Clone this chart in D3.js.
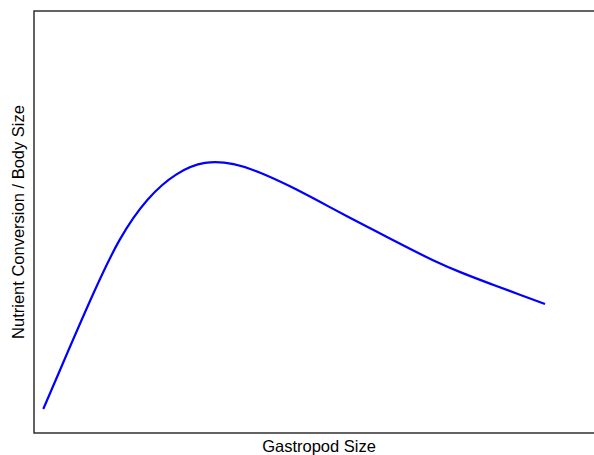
<!DOCTYPE html>
<html>
<head>
<meta charset="utf-8">
<script src="https://cdn.jsdelivr.net/npm/d3@7"></script>
<style>
  html, body { margin: 0; padding: 0; background: #fff; }
  svg { display: block; }
  text { font-family: "Liberation Sans", Arial, sans-serif; }
</style>
</head>
<body>
<div id="chart"></div>
<script>
// Data (arbitrary units, 0-100 on both axes)
const sizeValues = [1.63, 5, 10, 15, 20, 25, 30, 35, 40, 45, 50, 55, 60, 65, 70, 75, 80, 85, 89.65];
const conversionValues = [5.69, 16.3, 31.8, 45.7, 55.4, 61.3, 64.0, 63.7, 61.5, 58.4, 54.9, 51.3, 47.8, 44.3, 40.95, 38.0, 35.4, 32.9, 30.57];
const xLabel = "Gastropod Size";
const yLabel = "Nutrient Conversion / Body Size";

const width = 594, height = 455;
const margin = { left: 34, top: 11, right: -10, bottom: 22 };

const svg = d3.select("#chart").append("svg")
  .attr("width", width).attr("height", height);

const x = d3.scaleLinear().domain([0, 100]).range([margin.left, width - margin.right]);
const y = d3.scaleLinear().domain([0, 100]).range([height - margin.bottom, margin.top]);

const data = sizeValues.map((s, i) => ({ s, c: conversionValues[i] }));

// Curve
svg.append("path")
  .datum(data)
  .attr("fill", "none")
  .attr("stroke", "#0000ff")
  .attr("stroke-width", 2.2)
  .attr("d", d3.line().x(d => x(d.s)).y(d => y(d.c)).curve(d3.curveNatural));

// Frame
svg.append("rect")
  .attr("x", x(0)).attr("y", y(100))
  .attr("width", x(100) - x(0)).attr("height", y(0) - y(100))
  .attr("fill", "none").attr("stroke", "#222").attr("stroke-width", 1.4);

// Labels
svg.append("text")
  .attr("x", (x(0) + x(100)) / 2).attr("y", 452)
  .attr("text-anchor", "middle")
  .attr("font-size", 16.5)
  .attr("fill", "#000")
  .text(xLabel);

svg.append("text")
  .attr("transform", `translate(23.5,${(y(0) + y(100)) / 2}) rotate(-90)`)
  .attr("text-anchor", "middle")
  .attr("font-size", 16.5)
  .attr("fill", "#000")
  .text(yLabel);
</script>
</body>
</html>
